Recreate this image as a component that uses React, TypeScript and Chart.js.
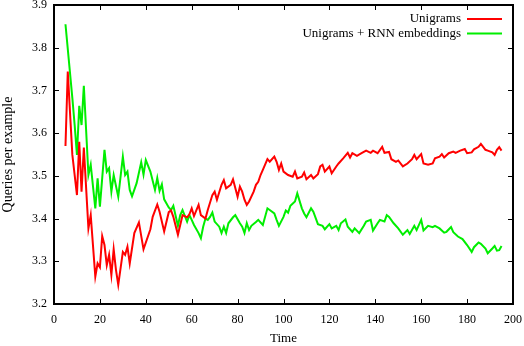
import React, { useEffect, useRef } from 'react';
import { Chart, registerables } from 'chart.js';

Chart.register(...registerables);

// ---- data ----
const seriesNames = ['Unigrams', 'Unigrams + RNN embeddings'];
const seriesColors = ['#ff0000', '#00ee00'];

const uniTime = [5, 6, 8, 10, 11, 12, 13, 15, 16, 18, 19, 20, 21, 22, 23, 24, 25, 26, 27, 28, 30, 31, 32, 33, 35, 37, 39, 42, 43, 45, 46, 48, 50, 51, 52, 54, 55, 56, 58, 59, 60, 61, 63, 64, 66, 67, 69, 70, 71, 73, 74, 75, 77, 78, 80, 81, 82, 83, 84, 85, 87, 88, 89, 90, 91, 93, 94, 96, 97, 98, 99, 100, 102, 104, 105, 106, 108, 109, 110, 112, 113, 115, 116, 117, 118, 120, 121, 123, 124, 126, 128, 129, 130, 132, 134, 136, 138, 139, 141, 143, 144, 146, 147, 149, 150, 152, 154, 156, 157, 158, 160, 161, 163, 165, 166, 168, 169, 170, 172, 174, 175, 177, 179, 180, 182, 183, 185, 186, 188, 189, 191, 192, 193, 194, 195];
const uniValues = [3.57, 3.744, 3.549, 3.455, 3.58, 3.463, 3.566, 3.377, 3.408, 3.264, 3.295, 3.286, 3.359, 3.338, 3.291, 3.315, 3.268, 3.328, 3.28, 3.245, 3.322, 3.315, 3.334, 3.295, 3.366, 3.391, 3.328, 3.375, 3.404, 3.433, 3.416, 3.37, 3.415, 3.419, 3.404, 3.362, 3.385, 3.408, 3.403, 3.41, 3.424, 3.406, 3.432, 3.408, 3.4, 3.42, 3.455, 3.463, 3.444, 3.479, 3.49, 3.471, 3.479, 3.492, 3.451, 3.475, 3.463, 3.444, 3.432, 3.44, 3.463, 3.479, 3.486, 3.502, 3.514, 3.539, 3.533, 3.545, 3.533, 3.514, 3.529, 3.51, 3.502, 3.498, 3.51, 3.494, 3.498, 3.508, 3.492, 3.502, 3.494, 3.504, 3.522, 3.526, 3.51, 3.522, 3.506, 3.522, 3.529, 3.541, 3.554, 3.543, 3.553, 3.547, 3.553, 3.559, 3.554, 3.559, 3.553, 3.568, 3.554, 3.556, 3.539, 3.533, 3.536, 3.522, 3.529, 3.539, 3.549, 3.539, 3.551, 3.529, 3.526, 3.529, 3.541, 3.545, 3.551, 3.543, 3.553, 3.557, 3.554, 3.559, 3.563, 3.553, 3.555, 3.562, 3.568, 3.575, 3.561, 3.559, 3.555, 3.549, 3.561, 3.567, 3.559];

const rnnTime = [5, 8, 9, 10, 11, 12, 13, 15, 16, 18, 19, 20, 22, 23, 24, 25, 26, 28, 30, 31, 32, 33, 34, 36, 38, 39, 40, 42, 44, 45, 46, 47, 48, 50, 51, 52, 54, 55, 56, 58, 59, 60, 61, 63, 64, 65, 66, 67, 68, 69, 70, 72, 73, 74, 75, 76, 78, 79, 81, 82, 83, 84, 85, 86, 88, 89, 91, 93, 96, 97, 98, 100, 101, 102, 103, 105, 106, 108, 109, 110, 112, 113, 115, 117, 118, 120, 121, 123, 124, 125, 127, 128, 130, 131, 133, 135, 136, 138, 139, 141, 142, 144, 145, 146, 148, 150, 152, 154, 155, 157, 158, 160, 161, 163, 165, 166, 168, 170, 171, 173, 174, 176, 178, 180, 182, 183, 185, 186, 188, 189, 191, 192, 193, 194, 195];
const rnnValues = [3.855, 3.682, 3.619, 3.549, 3.664, 3.619, 3.711, 3.502, 3.526, 3.424, 3.494, 3.428, 3.561, 3.51, 3.518, 3.463, 3.502, 3.451, 3.545, 3.502, 3.51, 3.467, 3.452, 3.483, 3.532, 3.503, 3.537, 3.51, 3.467, 3.495, 3.465, 3.48, 3.445, 3.426, 3.42, 3.43, 3.383, 3.408, 3.42, 3.393, 3.408, 3.397, 3.385, 3.366, 3.354, 3.381, 3.4, 3.397, 3.404, 3.414, 3.393, 3.381, 3.366, 3.381, 3.366, 3.389, 3.403, 3.408, 3.389, 3.381, 3.366, 3.389, 3.373, 3.383, 3.392, 3.397, 3.385, 3.424, 3.412, 3.397, 3.383, 3.404, 3.419, 3.414, 3.43, 3.44, 3.459, 3.424, 3.412, 3.403, 3.424, 3.416, 3.387, 3.383, 3.375, 3.387, 3.377, 3.383, 3.373, 3.389, 3.398, 3.381, 3.369, 3.377, 3.366, 3.383, 3.393, 3.397, 3.372, 3.389, 3.397, 3.393, 3.408, 3.404, 3.389, 3.377, 3.362, 3.373, 3.364, 3.383, 3.373, 3.397, 3.372, 3.383, 3.38, 3.383, 3.377, 3.367, 3.369, 3.38, 3.368, 3.358, 3.352, 3.338, 3.322, 3.333, 3.344, 3.341, 3.33, 3.319, 3.33, 3.336, 3.325, 3.326, 3.336];

const xMin = 0;
const xMax = 200;
const xStep = 20;
const yMin = 3.2;
const yMax = 3.9;
const yStep = 0.1;

const xTitle = 'Time';
const yTitle = 'Queries per example';

const FONT = "'Liberation Serif', 'Times New Roman', serif";

// frame + inward tick marks, drawn after everything else
const framePlugin = {
  id: 'gnuplotFrame',
  afterDraw(chart: any) {
    const ctx: CanvasRenderingContext2D = chart.ctx;
    const ca = chart.chartArea;
    const xs = chart.scales.x;
    const ys = chart.scales.y;
    ctx.save();
    ctx.strokeStyle = '#000000';
    ctx.lineWidth = 2;
    ctx.strokeRect(ca.left, ca.top, ca.right - ca.left, ca.bottom - ca.top);
    ctx.lineWidth = 1;
    ctx.beginPath();
    xs.ticks.forEach((t: any) => {
      const px = Math.round(xs.getPixelForValue(t.value)) + 0.5;
      ctx.moveTo(px, ca.bottom);
      ctx.lineTo(px, ca.bottom - 5);
      ctx.moveTo(px, ca.top);
      ctx.lineTo(px, ca.top + 5);
    });
    ys.ticks.forEach((t: any) => {
      const py = Math.round(ys.getPixelForValue(t.value)) + 0.5;
      ctx.moveTo(ca.left, py);
      ctx.lineTo(ca.left + 5, py);
      ctx.moveTo(ca.right, py);
      ctx.lineTo(ca.right - 5, py);
    });
    ctx.stroke();
    ctx.restore();
  },
};

// gnuplot-style legend: text right-aligned with the line sample to its right
const legendPlugin = {
  id: 'gnuplotLegend',
  afterDatasetsDraw(chart: any) {
    const ctx: CanvasRenderingContext2D = chart.ctx;
    ctx.save();
    ctx.font = `13px ${FONT}`;
    ctx.textAlign = 'right';
    ctx.textBaseline = 'middle';
    chart.data.datasets.forEach((ds: any, i: number) => {
      const y = 19 + i * 14.5;
      ctx.fillStyle = '#000';
      ctx.fillText(ds.label, 461, y);
      ctx.strokeStyle = ds.borderColor;
      ctx.lineWidth = 2;
      ctx.beginPath();
      ctx.moveTo(467, y);
      ctx.lineTo(502, y);
      ctx.stroke();
    });
    ctx.restore();
  },
};

export default function App() {
  const ref = useRef<HTMLCanvasElement>(null);
  useEffect(() => {
    document.body.style.margin = '0';
    const canvas = ref.current;
    if (!canvas) return;
    const chart = new Chart(canvas, {
      type: 'line',
      data: {
        datasets: [
          {
            label: seriesNames[0],
            data: uniTime.map((t, i) => ({ x: t, y: uniValues[i] })),
            borderColor: seriesColors[0],
            borderWidth: 2,
            pointRadius: 0,
          },
          {
            label: seriesNames[1],
            data: rnnTime.map((t, i) => ({ x: t, y: rnnValues[i] })),
            borderColor: seriesColors[1],
            borderWidth: 2,
            pointRadius: 0,
          },
        ],
      },
      options: {
        responsive: false,
        animation: false,
        layout: { padding: { top: 5, right: 11, bottom: 0, left: 0 } },
        plugins: { legend: { display: false }, tooltip: { enabled: false } },
        scales: {
          x: {
            type: 'linear',
            min: xMin,
            max: xMax,
            grid: { display: false, drawTicks: false },
            border: { display: false },
            title: {
              display: true,
              text: xTitle,
              color: '#000',
              font: { family: FONT, size: 13 },
              padding: { top: 6, bottom: 0 },
            },
            ticks: { stepSize: xStep, padding: 9, color: '#000', font: { family: FONT, size: 12 } },
            afterFit: (s: any) => { s.height = 42; s.paddingLeft = 0; s.paddingRight = 0; },
          },
          y: {
            type: 'linear',
            min: yMin,
            max: yMax,
            grid: { display: false, drawTicks: false },
            border: { display: false },
            title: {
              display: true,
              text: yTitle,
              color: '#000',
              font: { family: FONT, size: 14 },
              padding: { top: 0, bottom: 0 },
            },
            ticks: {
              stepSize: yStep,
              padding: 7,
              color: '#000',
              font: { family: FONT, size: 12 },
              callback: (v: any) => Number(v).toFixed(1),
            },
            afterFit: (s: any) => { s.width = 54; s.paddingTop = 0; s.paddingBottom = 0; },
          },
        },
      },
      plugins: [legendPlugin, framePlugin],
    });
    return () => chart.destroy();
  }, []);
  return (
    <div style={{ width: 524, height: 346 }}>
      <canvas ref={ref} width={524} height={346} style={{ display: 'block' }} />
    </div>
  );
}
